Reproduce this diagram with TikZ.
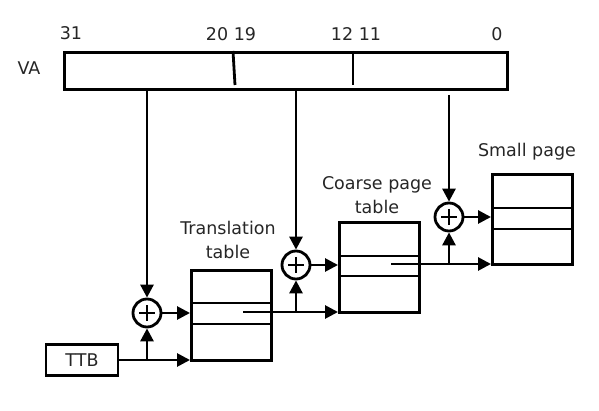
\documentclass[tikz,border=0pt]{standalone}
\usepackage{fontspec}
\setmainfont{DejaVu Sans}
\usetikzlibrary{arrows.meta}

\tikzset{
    lbl/.style={font=\fontsize{17.5}{24}\selectfont, text=black!85},
    tablebox/.style={draw, minimum width=80pt, minimum height=90pt, inner sep=0pt, anchor=north west},
    adder/.style={draw, circle, minimum size=28pt, inner sep=0pt,
        path picture={\draw[line width=2pt]
            ([xshift=6pt]path picture bounding box.west) -- ([xshift=-6pt]path picture bounding box.east)
            ([yshift=-6pt]path picture bounding box.north) -- ([yshift=6pt]path picture bounding box.south);}},
}

\begin{document}
\begin{tikzpicture}[x=1pt, y=-1pt, line width=2.8pt, >={Triangle[length=13pt,width=13pt]}]
    \useasboundingbox (0,0) rectangle (599,411);

    \node[draw, minimum width=443pt, minimum height=37pt, inner sep=0pt, anchor=north west] (va) at (63,51) {};
    \draw (233,51) -- (235,85);
    \draw (353,51) -- (353,85);
    \node[lbl] (valabel) at (29,68) {VA};
    \node[lbl] (b31) at (71,33) {31};
    \node[lbl] (b20) at (231,34) {20 19};
    \node[lbl] (b12) at (356,34) {12 11};
    \node[lbl] (b0) at (497,34) {0};

    \node[tablebox] (tt) at (190,269) {};
    \node[tablebox] (ct) at (338,221) {};
    \node[tablebox] (sp) at (491,173) {};
    \draw ([yshift=-34pt]tt.north west) -- ++(83,0);
    \draw ([yshift=-55pt]tt.north west) -- ++(83,0);
    \draw ([yshift=-35pt]ct.north west) -- ++(83,0);
    \draw ([yshift=-55pt]ct.north west) -- ++(83,0);
    \draw ([yshift=-35pt]sp.north west) -- ++(83,0);
    \draw ([yshift=-56pt]sp.north west) -- ++(83,0);
    \node[lbl, align=center] (ttlabel) at (228,240) {Translation\\table};
    \node[lbl, align=center] (ctlabel) at (377,195) {Coarse page\\table};
    \node[lbl] (splabel) at (527,152) {Small page};

    \node[draw, lbl, minimum width=72pt, minimum height=31pt, inner sep=0pt] (ttb) at (82,360) {TTB};

    \node[adder] (s1) at (147,313) {};
    \node[adder] (s2) at (296,265) {};
    \node[adder] (s3) at (449,217) {};

    \coordinate (vtap) at (449,95);
    \coordinate (tout) at (243,312);
    \coordinate (cout) at (391,264);

    \draw[->] (va.south -| s1) -- (s1);
    \draw[->] (va.south -| s2) -- (s2);
    \draw[->] (vtap) -- (s3);

    \draw[->] (ttb) -- (ttb -| tt.west);
    \draw[->] (s1 |- ttb) -- (s1);
    \draw[->] (s1) -- (s1 -| tt.west);

    \draw[->] (tout) -- (tout -| ct.west);
    \draw[->] (s2 |- tout) -- (s2);
    \draw[->] (s2) -- (s2 -| ct.west);

    \draw[->] (cout) -- (cout -| sp.west);
    \draw[->] (s3 |- cout) -- (s3);
    \draw[->] (s3) -- (s3 -| sp.west);
\end{tikzpicture}
\end{document}
